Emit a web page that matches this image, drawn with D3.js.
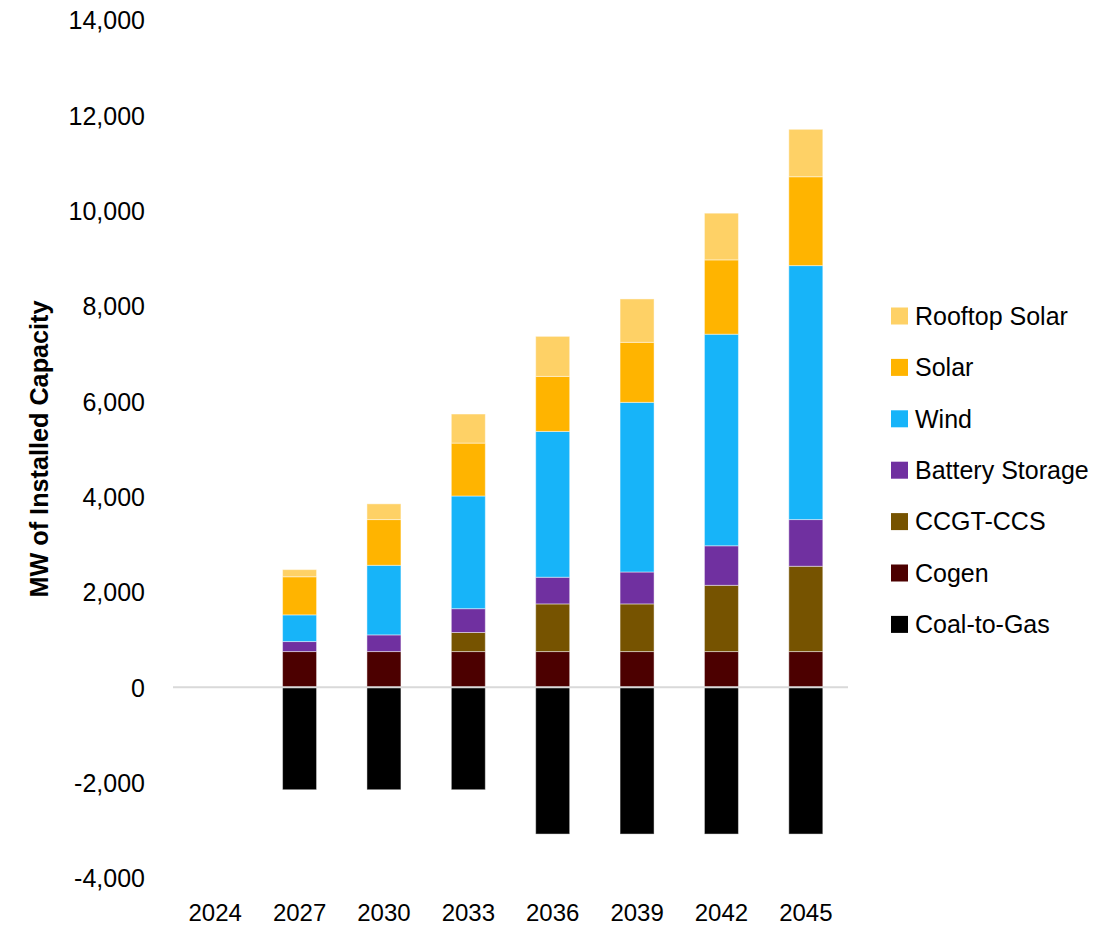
<!DOCTYPE html>
<html>
<head>
<meta charset="utf-8">
<script src="https://cdn.jsdelivr.net/npm/d3@7"></script>
<style>
  html, body { margin: 0; padding: 0; background: #ffffff; }
  svg { display: block; }
  text { font-family: "Liberation Sans", Arial, sans-serif; fill: #000; }
</style>
</head>
<body>
<svg id="chart" width="1120" height="927"></svg>
<script>
// ---- Data (MW of installed capacity) ----
const years = ["2024", "2027", "2030", "2033", "2036", "2039", "2042", "2045"];
const seriesNames = ["Coal-to-Gas", "Cogen", "CCGT-CCS", "Battery Storage", "Wind", "Solar", "Rooftop Solar"];
const coalToGas    = [0, -2150, -2150, -2150, -3080, -3080, -3080, -3080];
const cogen        = [0, 750, 750, 750, 750, 750, 750, 750];
const ccgtCcs      = [0, 0, 0, 400, 1000, 1000, 1390, 1790];
const battery      = [0, 210, 350, 500, 560, 670, 830, 980];
const wind         = [0, 560, 1460, 2365, 3060, 3560, 4440, 5330];
const solar        = [0, 800, 960, 1110, 1155, 1260, 1560, 1865];
const rooftopSolar = [0, 150, 330, 610, 840, 910, 980, 995];
const yTickValues  = [-4000, -2000, 0, 2000, 4000, 6000, 8000, 10000, 12000, 14000];
const yTitle = "MW of Installed Capacity";

const seriesValues = {
  "Coal-to-Gas": coalToGas,
  "Cogen": cogen,
  "CCGT-CCS": ccgtCcs,
  "Battery Storage": battery,
  "Wind": wind,
  "Solar": solar,
  "Rooftop Solar": rooftopSolar
};
const colors = {
  "Coal-to-Gas": "#000000",
  "Cogen": "#4C0000",
  "CCGT-CCS": "#765300",
  "Battery Storage": "#7030A0",
  "Wind": "#17B4F9",
  "Solar": "#FFB400",
  "Rooftop Solar": "#FED166"
};

const table = years.map((y, i) => {
  const row = { year: y };
  seriesNames.forEach(k => row[k] = seriesValues[k][i]);
  return row;
});

const svg = d3.select("#chart");

const x = d3.scaleBand().domain(years).range([173, 848]).paddingInner(0.597).paddingOuter(0.2985);
const y = d3.scaleLinear().domain([-4000, 14000]).range([877.9, 20.2]);

const stack = d3.stack().keys(seriesNames).offset(d3.stackOffsetDiverging);
const stacked = stack(table);

// Bars
svg.append("g").selectAll("g")
  .data(stacked)
  .join("g")
  .attr("fill", d => colors[d.key])
  .selectAll("rect")
  .data(d => d)
  .join("rect")
  .attr("x", d => x(d.data.year))
  .attr("width", x.bandwidth())
  .attr("y", d => y(Math.max(d[0], d[1])))
  .attr("height", d => Math.abs(y(d[0]) - y(d[1])))
  .attr("stroke", "#ffffff")
  .attr("stroke-opacity", 0.45)
  .attr("stroke-width", 1);

// Zero axis line
svg.append("line")
  .attr("x1", 173).attr("x2", 848)
  .attr("y1", y(0)).attr("y2", y(0))
  .attr("stroke", "#d9d9d9")
  .attr("stroke-width", 2);

// Y axis (labels only)
const fmt = d3.format(",");
const yAxis = d3.axisLeft(y).tickValues(yTickValues)
  .tickFormat(d => fmt(d).replace("\u2212", "-"))
  .tickSize(0).tickPadding(0);
const gy = svg.append("g").attr("transform", "translate(145,0)").call(yAxis);
gy.select(".domain").remove();
gy.selectAll("text")
  .attr("font-size", 25)
  .attr("font-family", "Liberation Sans, Arial, sans-serif")
  .attr("fill", "#000")
  .attr("dy", "0.35em");

// X axis (labels only)
const xAxis = d3.axisBottom(x).tickSize(0).tickPadding(0);
const gx = svg.append("g").attr("transform", "translate(0,921)").call(xAxis);
gx.select(".domain").remove();
gx.selectAll("text")
  .attr("font-size", 24)
  .attr("font-family", "Liberation Sans, Arial, sans-serif")
  .attr("fill", "#000")
  .attr("dy", "0")
  .attr("y", 0);

// Y title
svg.append("text")
  .attr("transform", "translate(48,449) rotate(-90)")
  .attr("text-anchor", "middle")
  .attr("font-size", 25)
  .attr("font-weight", "bold")
  .style("font-family", "'Liberation Sans Narrow', 'Liberation Sans', Arial, sans-serif")
  .attr("textLength", 297)
  .attr("lengthAdjust", "spacingAndGlyphs")
  .text(yTitle);

// Legend (top = Rooftop Solar)
const legendItems = seriesNames.slice().reverse();
const lg = svg.append("g").attr("transform", "translate(891,316)");
const li = lg.selectAll("g").data(legendItems).join("g")
  .attr("transform", (d, i) => `translate(0,${i * 51.4})`);
li.append("rect")
  .attr("x", 0).attr("y", -8.5).attr("width", 17).attr("height", 17)
  .attr("fill", d => colors[d]);
li.append("text")
  .attr("x", 24).attr("y", 0).attr("dy", "0.35em")
  .attr("font-size", 25)
  .text(d => d);
</script>
</body>
</html>
